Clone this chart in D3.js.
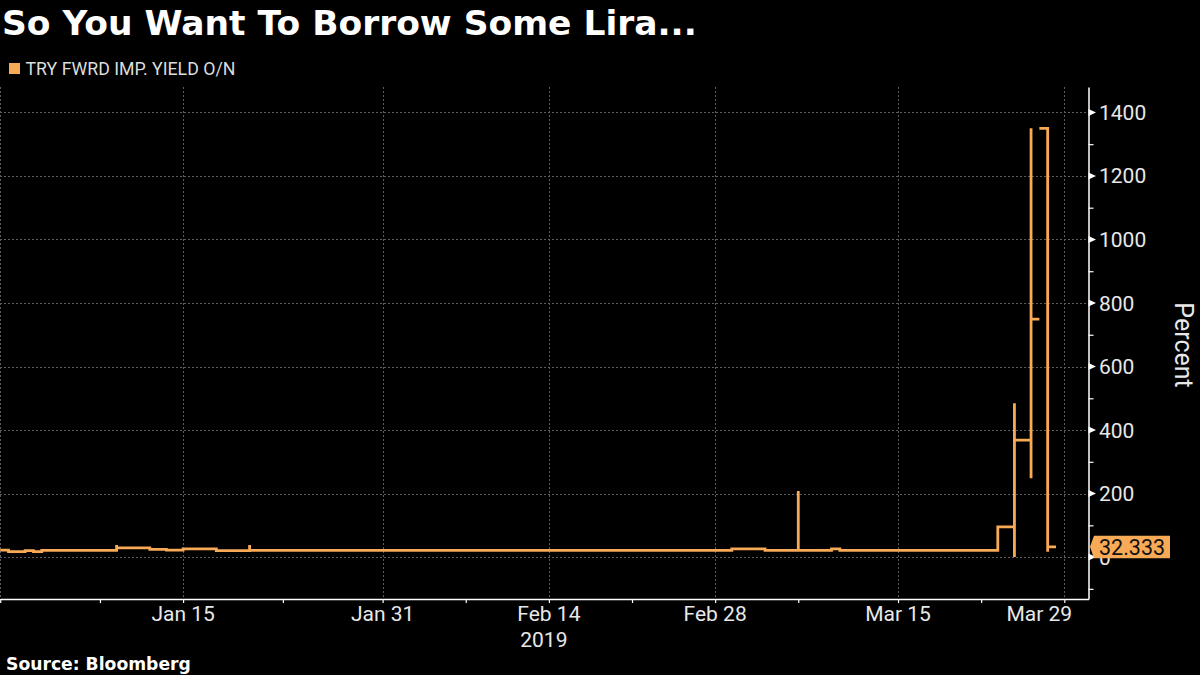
<!DOCTYPE html>
<html>
<head>
<meta charset="utf-8">
<script src="https://cdn.jsdelivr.net/npm/d3@7"></script>
<style>
  html, body { margin: 0; padding: 0; background: #000; }
  svg { display: block; }
</style>
</head>
<body>
<svg id="chart" width="1200" height="675"></svg>
<script>
// ---------------- DATA ----------------
const titleText = "So You Want To Borrow Some Lira...";
const seriesName = "TRY FWRD IMP. YIELD O/N";
const sourceText = "Source: Bloomberg";
const yAxisTitle = "Percent";
const lastValueLabel = "32.333";

// observation times (step-after); several entries on one time = intraday moves
const obsTime = [
  "2018-12-31", "2018-12-31 12:00", "2019-01-01 12:00", "2019-01-02", "2019-01-02 12:00",
  "2019-01-09", "2019-01-09", "2019-01-11", "2019-01-14", "2019-01-15", "2019-01-17",
  "2019-01-21", "2019-01-21", "2019-03-01", "2019-03-05", "2019-03-07", "2019-03-07",
  "2019-03-11", "2019-03-11 12:00", "2019-03-25", "2019-03-26", "2019-03-26", "2019-03-26",
  "2019-03-27", "2019-03-27", "2019-03-27", "2019-03-27 12:00", "2019-03-27 12:00",
  "2019-03-28", "2019-03-28", "2019-03-28 12:00"
];
const obsValue = [
  22, 17, 20, 17, 21,
  38, 29, 24, 22, 26, 20,
  38, 21, 26, 21, 208, 21,
  26, 21, 95, 0, 484, 368,
  248, 1350, 749, null, 1350,
  17, 32.333, 32.333
];

const xMajorTicks = ["2019-01-15", "2019-01-31", "2019-02-14", "2019-02-28", "2019-03-15", "2019-03-29"];
const xMajorLabels = ["Jan 15", "Jan 31", "Feb 14", "Feb 28", "Mar 15", "Mar 29"];
const xMinorTicks = ["2018-12-31", "2019-01-08", "2019-01-23", "2019-02-07", "2019-02-21", "2019-03-07", "2019-03-22"];
const yearLabel = "2019";
const yearLabelAt = "2019-02-14";
const yMajorTicks = [0, 200, 400, 600, 800, 1000, 1200, 1400];
const yMinorTicks = [-100, 100, 300, 500, 700, 900, 1100, 1300];
const yDomain = [-132, 1480];

// ---------------- SETUP ----------------
const ORANGE = "#f8aa57";
const svg = d3.select("#chart");
svg.append("rect").attr("width", 1200).attr("height", 675).attr("fill", "#000");

const plot = { left: 0, right: 1088.5, top: 87, bottom: 599 };

// business-day calendar (weekdays) for the compressed time axis
const parseDay = d3.timeParse("%Y-%m-%d");
const bdays = d3.timeDay.range(parseDay("2018-12-31"), parseDay("2019-04-02"))
  .filter(d => d.getDay() !== 0 && d.getDay() !== 6);
const fmtDay = d3.timeFormat("%Y-%m-%d");
const dayIndex = new Map(bdays.map((d, i) => [fmtDay(d), i]));
function tIndex(s) {
  const [day, time] = s.split(" ");
  let idx = dayIndex.get(day);
  if (time) { const [h, m] = time.split(":").map(Number); idx += (h + m / 60) / 24; }
  return idx;
}

const x = d3.scaleLinear()
  .domain([tIndex("2018-12-31") - 0.012, tIndex("2019-03-29") + 1.455])
  .range([plot.left, plot.right]);
const y = d3.scaleLinear().domain(yDomain).range([plot.bottom, plot.top]);

// ---------------- GRID ----------------
const grid = svg.append("g").attr("stroke", "#5e5e5e").attr("stroke-width", 1).attr("stroke-dasharray", "2,2");
grid.selectAll("line.h").data(yMajorTicks).join("line")
  .attr("x1", plot.left).attr("x2", plot.right)
  .attr("y1", d => Math.round(y(d)) + 0.5).attr("y2", d => Math.round(y(d)) + 0.5);
grid.selectAll("line.v").data(xMajorTicks).join("line")
  .attr("x1", d => Math.round(x(tIndex(d))) + 0.5).attr("x2", d => Math.round(x(tIndex(d))) + 0.5)
  .attr("y1", plot.top).attr("y2", plot.bottom);
grid.append("line").attr("x1", 0.5).attr("x2", 0.5).attr("y1", plot.top).attr("y2", plot.bottom);

// ---------------- SERIES ----------------
const verts = [];
for (let i = 0; i < obsTime.length; i++) {
  const v = obsValue[i];
  if (v === null) continue;
  const t = tIndex(obsTime[i]);
  verts.push({ t, v });
  if (i + 1 < obsTime.length) {
    verts.push({ t: tIndex(obsTime[i + 1]), v });
    if (obsValue[i + 1] === null) verts.push(null);
  }
}
const line = d3.line()
  .defined(d => d !== null)
  .x(d => x(d.t)).y(d => y(d.v));
svg.append("path")
  .attr("d", line(verts))
  .attr("fill", "none")
  .attr("stroke", ORANGE)
  .attr("stroke-width", 2.8)
  .attr("stroke-linejoin", "miter")
  .attr("stroke-linecap", "butt");

// ---------------- X AXIS ----------------
const axisFont = "Roboto, 'Noto Sans', sans-serif";
const xAxisG = svg.append("g").attr("transform", `translate(0,${plot.bottom})`);
xAxisG.call(d3.axisBottom(x)
  .tickValues(xMajorTicks.concat(xMinorTicks).map(tIndex))
  .tickSize(4).tickSizeOuter(0).tickFormat(""));
xAxisG.select(".domain").attr("stroke", "#fff").attr("stroke-width", 1.5);
xAxisG.selectAll(".tick line").attr("stroke", "#fff").attr("stroke-width", 1.2);
xAxisG.selectAll(".tick text").remove();
svg.append("g").selectAll("text").data(xMajorTicks).join("text")
  .attr("x", (d, i) => x(tIndex(d)) - (i === xMajorTicks.length - 1 ? 25 : 0))
  .attr("y", 621)
  .attr("text-anchor", "middle")
  .attr("fill", "#e8e8e8")
  .style("font-family", axisFont).style("font-size", "21px")
  .text((d, i) => xMajorLabels[i]);
svg.append("text")
  .attr("x", x(tIndex(yearLabelAt)) - 5).attr("y", 646.5)
  .attr("text-anchor", "middle").attr("fill", "#e8e8e8")
  .style("font-family", axisFont).style("font-size", "21px")
  .text(yearLabel);

// ---------------- Y AXIS (right) ----------------
const yAxisG = svg.append("g").attr("transform", `translate(${plot.right},0)`);
yAxisG.call(d3.axisRight(y).tickValues(yMinorTicks).tickSize(5).tickSizeOuter(0).tickFormat(""));
yAxisG.select(".domain").attr("stroke", "#fff").attr("stroke-width", 1.5);
yAxisG.selectAll(".tick line").attr("stroke", "#fff").attr("stroke-width", 1.2);
yAxisG.selectAll("path.tri").data(yMajorTicks).join("path")
  .attr("class", "tri")
  .attr("d", d => `M0,${y(d) - 3.5}L7.5,${y(d)}L0,${y(d) + 3.5}Z`)
  .attr("fill", "#fff");
yAxisG.selectAll("text.lab").data(yMajorTicks).join("text")
  .attr("class", "lab")
  .attr("x", 10.5).attr("y", d => y(d)).attr("dy", "0.36em")
  .attr("fill", "#e8e8e8")
  .style("font-family", axisFont).style("font-size", "21px")
  .text(d => d);

svg.append("text")
  .attr("transform", `translate(1175,345) rotate(90)`)
  .attr("text-anchor", "middle")
  .attr("fill", "#e8e8e8")
  .style("font-family", axisFont).style("font-size", "25px")
  .text(yAxisTitle);

// ---------------- LAST VALUE TAG ----------------
const lastV = obsValue[obsValue.length - 1];
const ly = y(lastV);
const tag = svg.append("g").attr("transform", `translate(${plot.right + 1.5},${ly})`);
tag.append("path")
  .attr("d", "M0,0L4,-11L80,-11L80,11.5L4,11.5Z")
  .attr("fill", ORANGE);
tag.append("text")
  .attr("x", 9).attr("y", 0).attr("dy", "0.36em")
  .attr("fill", "#111")
  .style("font-family", axisFont).style("font-size", "21.5px")
  .text(lastValueLabel);

// ---------------- TITLE, LEGEND, SOURCE ----------------
function fitText(sel, target) {
  const len = sel.node().getComputedTextLength();
  const fs = parseFloat(sel.style("font-size"));
  sel.style("font-size", (fs * target / len) + "px");
}
const title = svg.append("text")
  .attr("x", 2).attr("y", 35)
  .attr("fill", "#fff")
  .style("font-family", "'DejaVu Sans', Verdana, sans-serif")
  .style("font-weight", "bold").style("font-size", "33px")
  .text(titleText);
fitText(title, 695);

svg.append("rect").attr("x", 9).attr("y", 63).attr("width", 11).attr("height", 11).attr("fill", ORANGE);
const leg = svg.append("text")
  .attr("x", 25.5).attr("y", 74.5)
  .attr("fill", "#dcdcdc")
  .style("font-family", axisFont).style("font-size", "16px")
  .text(seriesName);
fitText(leg, 210);

const src = svg.append("text")
  .attr("x", 6).attr("y", 670)
  .attr("fill", "#fff")
  .style("font-family", "'DejaVu Sans', Verdana, sans-serif")
  .style("font-weight", "bold").style("font-size", "18px")
  .text(sourceText);
fitText(src, 185);
</script>
</body>
</html>
